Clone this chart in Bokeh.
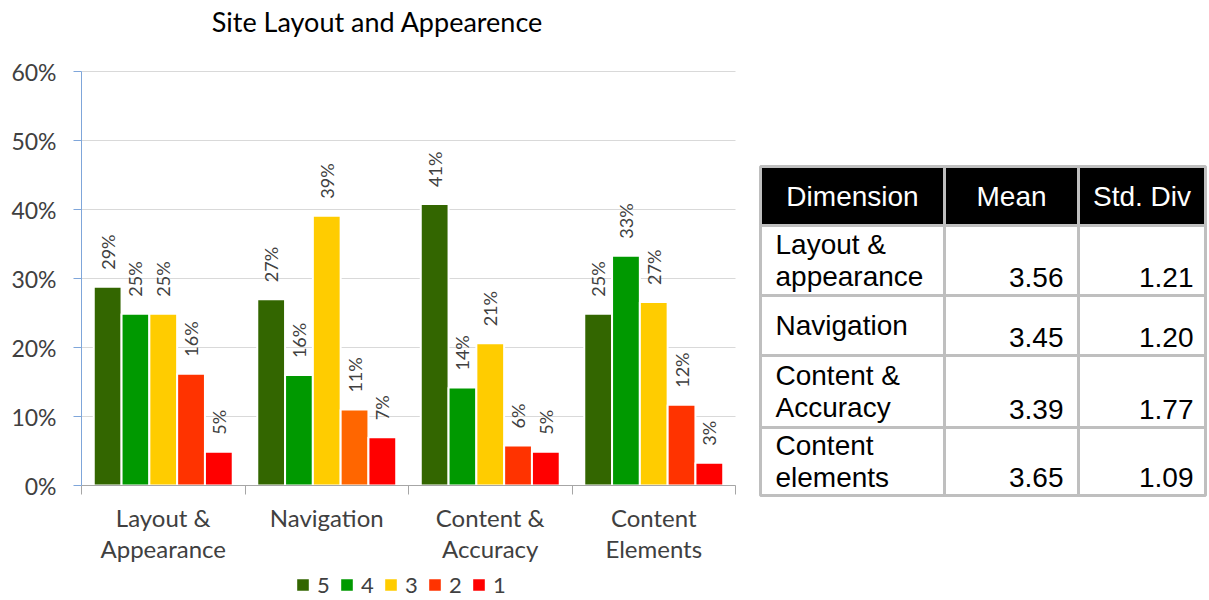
import numpy as np
from bokeh.plotting import figure
from bokeh.models import (ColumnDataSource, Range1d, FixedTicker, PrintfTickFormatter,
                          Label, Legend, LegendItem)
from bokeh.transform import dodge
from bokeh.core.properties import value
from bokeh.embed import file_html
from bokeh.resources import INLINE

# ---------------- data ----------------
title = "Site Layout and Appearence"
categories = ["Layout &\nAppearance", "Navigation", "Content &\nAccuracy", "Content\nElements"]
ratings = ["5", "4", "3", "2", "1"]
r5 = [28.8, 27.0, 40.8, 24.9]
r4 = [24.9, 16.0, 14.2, 33.3]
r3 = [24.9, 39.1, 20.6, 26.6]
r2 = [16.2, 11.0, 5.8, 11.7]
r1 = [4.9, 7.0, 4.9, 3.3]
series = [r5, r4, r3, r2, r1]
series_colors = [
    ["#336600"] * 4,
    ["#009900"] * 4,
    ["#FFCC00"] * 4,
    ["#FF3300", "#FF6600", "#FF3300", "#FF3300"],
    ["#FF0000"] * 4,
]
y_ticks = [0, 10, 20, 30, 40, 50, 60]

table_header = ["Dimension", "Mean", "Std. Div"]
table_dims = ["Layout &\nappearance", "Navigation", "Content &\nAccuracy", "Content\nelements"]
table_mean = [3.56, 3.45, 3.39, 3.65]
table_std = [1.21, 1.20, 1.77, 1.09]

# ---------------- layout / styles ----------------
W, H = 1209, 600
FRAME_LEFT = 81      # pixel x of the value axis
BASE_Y = 485         # pixel y of the 0% line
PX_PER_CAT = 163.5
PX_PER_PCT = 6.9
FONT = "Lato"
TFONT = "Liberation Sans"
AXIS_TXT = "#404040"
BAR_W = 0.17
N = len(categories)
YMAX = y_ticks[-1]

x0 = -FRAME_LEFT / PX_PER_CAT
x1 = (W - FRAME_LEFT) / PX_PER_CAT
y0 = -(H - BASE_Y) / PX_PER_PCT
y1 = BASE_Y / PX_PER_PCT

p = figure(width=W, height=H, x_range=Range1d(x0, x1), y_range=Range1d(y0, y1),
           extra_x_ranges={"px": Range1d(0, W)}, extra_y_ranges={"py": Range1d(H, 0)},
           output_backend="svg", toolbar_location=None, min_border=0)
p.outline_line_color = None
p.background_fill_color = "white"
p.border_fill_color = "white"

# grid
p.xgrid.visible = False
p.ygrid.ticker = FixedTicker(ticks=y_ticks)
p.ygrid.grid_line_color = "#D9D9D9"
p.ygrid.grid_line_width = 1
p.ygrid.bounds = (0, YMAX)
try:
    p.ygrid.cross_bounds = (0, N)
except Exception:
    p.ygrid.visible = False
    p.segment(x0=0, x1=N, y0=y_ticks, y1=y_ticks, line_color="#D9D9D9", line_width=1)

# value axis
p.yaxis.fixed_location = 0
p.yaxis.bounds = (0, YMAX)
p.yaxis.ticker = FixedTicker(ticks=y_ticks)
p.yaxis.formatter = PrintfTickFormatter(format="%d%%")
p.yaxis.axis_line_color = "#7FA6DA"
p.yaxis.major_tick_line_color = "#7FA6DA"
p.yaxis.major_tick_in = 0
p.yaxis.major_tick_out = 8
p.yaxis.minor_tick_line_color = None
p.yaxis.major_label_standoff = 17
p.yaxis.major_label_text_font = FONT
p.yaxis.major_label_text_font_size = "23px"
p.yaxis.major_label_text_color = AXIS_TXT

# category axis
centers = [i + 0.5 for i in range(N)]
bounds = list(range(N + 1))
p.xaxis.fixed_location = 0
p.xaxis.bounds = (0, N)
p.xaxis.ticker = FixedTicker(ticks=centers, minor_ticks=bounds)
p.xaxis.major_label_overrides = {c: lab for c, lab in zip(centers, categories)}
p.xaxis.axis_line_color = "#A6A6A6"
p.xaxis.major_tick_line_color = None
p.xaxis.major_tick_in = 0
p.xaxis.major_tick_out = 8
p.xaxis.minor_tick_line_color = "#A6A6A6"
p.xaxis.minor_tick_in = 0
p.xaxis.minor_tick_out = 9
p.xaxis.major_label_standoff = 8
p.xaxis.major_label_text_font = FONT
p.xaxis.major_label_text_font_size = "24px"
p.xaxis.major_label_text_line_height = 1.1
p.xaxis.major_label_text_color = AXIS_TXT

# bars + labels
items = []
for k, (name, vals, cols) in enumerate(zip(ratings, series, series_colors)):
    src = ColumnDataSource(dict(x=centers, top=vals, color=cols,
                                label=[f"{round(v)}%" for v in vals]))
    off = (k - 2) * BAR_W
    r = p.vbar(x=dodge("x", off), top="top", width=BAR_W, source=src,
               fill_color="color", line_color="white", line_width=2)
    p.text(x=dodge("x", off), y="top", text="label", source=src, angle=np.pi / 2,
           text_align="left", text_baseline="middle", y_offset=-17,
           text_font=value(FONT), text_font_size="18px", text_color=AXIS_TXT)
    items.append(LegendItem(label=name, renderers=[r]))

legend = Legend(items=items, orientation="horizontal", location=(294, 2),
                glyph_width=17, glyph_height=17, label_standoff=6, label_width=13,
                spacing=8, padding=0, margin=0, border_line_color=None,
                background_fill_alpha=0, label_text_font=FONT,
                label_text_font_size="22px", label_text_color=AXIS_TXT)
p.add_layout(legend, "center")

p.add_layout(Label(x=377, y=H - 21, x_units="screen", y_units="screen", text=title,
                   text_align="center", text_baseline="alphabetic",
                   text_font=FONT, text_font_size="27px", text_color="#000000"))

# ---------------- table (pixel ranges) ----------------
col_edges = [760, 944, 1078, 1205]
row_edges = [166, 225, 295, 355, 427, 495]
PAD = 8

nrows = len(table_dims) + 1
ncols = len(table_header)
cells = dict(left=[], right=[], top=[], bottom=[], fill=[])
for ri in range(nrows):
    for ci in range(ncols):
        cells["left"].append(col_edges[ci])
        cells["right"].append(col_edges[ci + 1])
        cells["top"].append(row_edges[ri])
        cells["bottom"].append(row_edges[ri + 1])
        cells["fill"].append("#000000" if ri == 0 else "#FFFFFF")
p.quad(left="left", right="right", top="top", bottom="bottom", fill_color="fill",
       line_color="#BFBFBF", line_width=3, source=ColumnDataSource(cells),
       x_range_name="px", y_range_name="py")

hdr = ColumnDataSource(dict(
    x=[(col_edges[i] + col_edges[i + 1]) / 2 for i in range(ncols)],
    y=[(row_edges[0] + row_edges[1]) / 2] * ncols,
    text=table_header))
p.text(x="x", y="y", text="text", source=hdr, text_align="center", text_baseline="middle",
       text_font=value(TFONT), text_font_size="28px", text_color="white",
       x_range_name="px", y_range_name="py")

dims = ColumnDataSource(dict(
    x=[col_edges[0] + 15] * len(table_dims),
    y=[(row_edges[i + 1] + row_edges[i + 2]) / 2 for i in range(len(table_dims))],
    text=table_dims))
p.text(x="x", y="y", text="text", source=dims, text_align="left", text_baseline="middle",
       text_font=value(TFONT), text_font_size="28px", text_color="black",
       text_line_height=1.05, x_range_name="px", y_range_name="py")

nums = ColumnDataSource(dict(
    x=[col_edges[2] - 15] * len(table_mean) + [col_edges[3] - 12] * len(table_std),
    y=[row_edges[i + 2] - PAD for i in range(len(table_mean))] * 2,
    text=[f"{v:.2f}" for v in table_mean] + [f"{v:.2f}" for v in table_std]))
p.text(x="x", y="y", text="text", source=nums, text_align="right", text_baseline="alphabetic",
       y_offset=-10, text_font=value(TFONT), text_font_size="28px", text_color="black",
       x_range_name="px", y_range_name="py")

open("out.html", "w").write(file_html(p, INLINE))
